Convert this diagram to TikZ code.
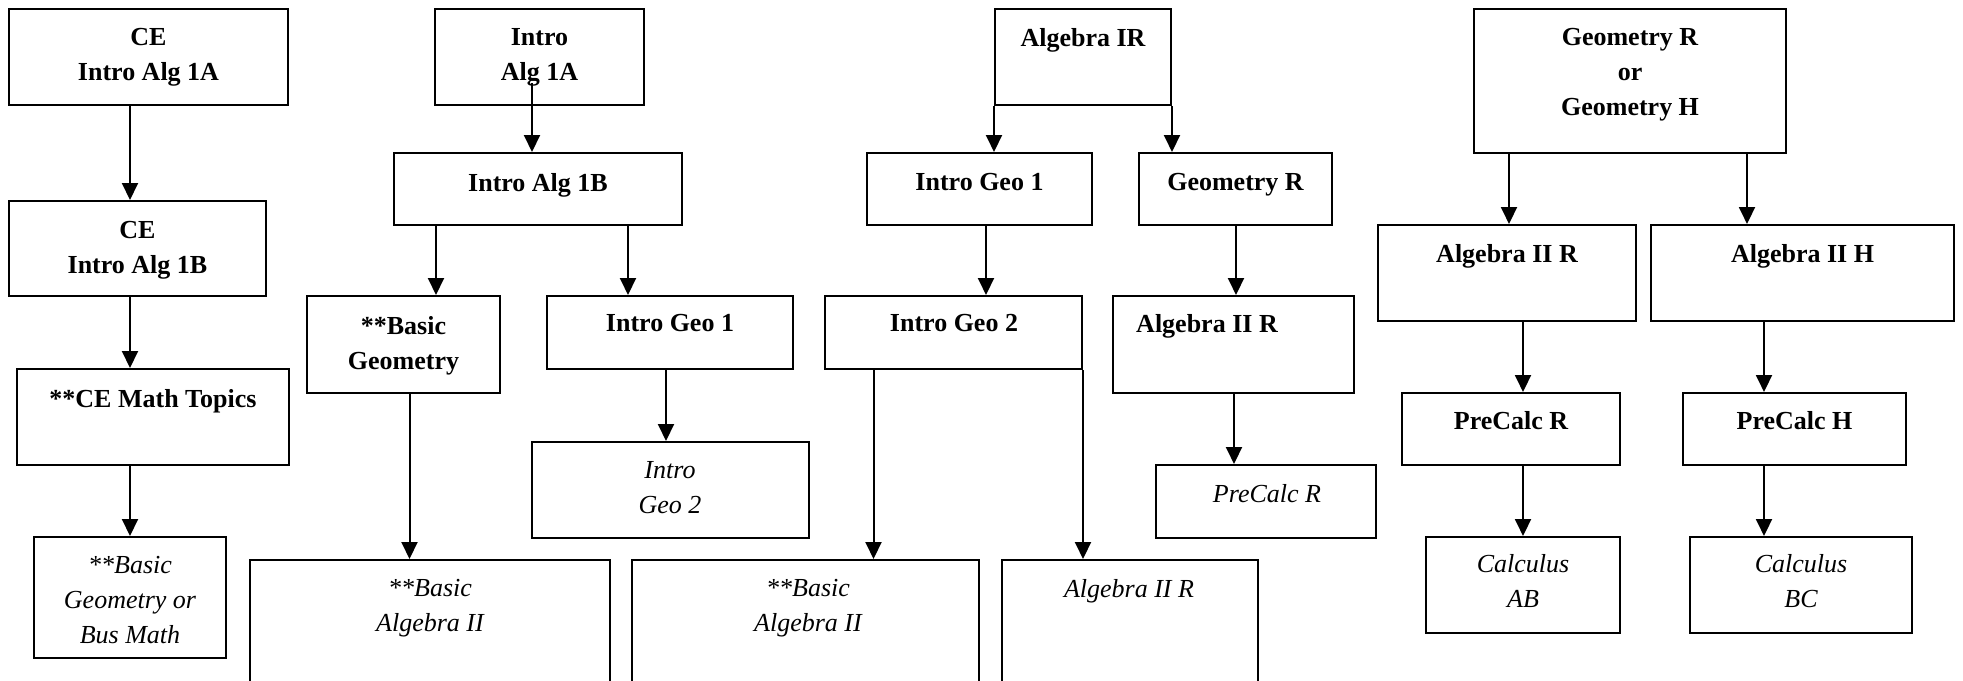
\documentclass[tikz,border=0pt]{standalone}
\usepackage{fontspec}
\setmainfont{Liberation Serif}
\usetikzlibrary{arrows.meta,fit}
\tikzset{
  box/.style={draw, line width=1pt, inner sep=0pt, rectangle},
  lbl/.style={anchor=north, inner sep=0pt, align=center, font=\fontsize{13}{17.5}\selectfont\bfseries},
  ilbl/.style={lbl, font=\fontsize{13}{17.5}\selectfont\itshape},
  conn/.style={draw, line width=1pt, -{Triangle[length=8.5pt,width=8pt]}},
}
\newcommand{\mkbox}[9]{%
  \node[box, fit={(#3,#4) (#5,#6)}] (#1) {};
  \node[#2] (#1t) at (#7,#8-9) {#9};
}
\begin{document}
\begin{tikzpicture}[x=0.5pt, y=-0.5pt]
\useasboundingbox (0,0) rectangle (1963,680);
\clip (0,0) rectangle (1963,680);
\fill[white] (0,0) rectangle (1963,680);
% column A
\mkbox{a1}{lbl}{9}{9}{288}{105}{148.5}{37}{CE\\Intro Alg 1A}
\mkbox{a2}{lbl}{9}{201}{266}{296}{137.5}{230}{CE\\Intro Alg 1B}
\mkbox{a3}{lbl}{17}{369}{289}{465}{153}{398}{**CE Math Topics}
\mkbox{a4}{ilbl}{34}{537}{226}{658}{130}{565}{**Basic\\Geometry or\\Bus Math}
% column B
\mkbox{b1}{lbl}{435}{9}{644}{105}{539.5}{37}{Intro\\Alg 1A}
\mkbox{b2}{lbl}{394}{153}{682}{225}{538}{182}{Intro Alg 1B}
\mkbox{b3}{lbl}{307}{296}{500}{393}{403.5}{325}{**Basic\\Geometry}
\mkbox{b4}{lbl}{547}{296}{793}{369}{670}{323}{Intro Geo 1}
\mkbox{b5}{ilbl}{250}{560}{610}{700}{430}{588}{**Basic\\Algebra II}
\mkbox{b6}{ilbl}{532}{442}{809}{538}{670}{470}{Intro\\Geo 2}
% column C
\mkbox{c1}{lbl}{995}{9}{1171}{105}{1083}{37}{Algebra IR}
\mkbox{c2}{lbl}{867}{153}{1092}{225}{979.5}{182}{Intro Geo 1}
\mkbox{c3}{lbl}{1139}{153}{1332}{225}{1235.5}{182}{Geometry R}
\mkbox{c4}{lbl}{825}{296}{1082}{369}{954}{323}{Intro Geo 2}
\mkbox{c5}{lbl}{1113}{296}{1354}{393}{1207}{323}{Algebra II R}
\mkbox{c6}{ilbl}{1156}{465}{1376}{538}{1267}{493}{PreCalc R}
\mkbox{c7}{ilbl}{632}{560}{979}{700}{808}{588}{**Basic\\Algebra II}
\mkbox{c8}{ilbl}{1002}{560}{1258}{700}{1129}{588}{Algebra II R}
% column D
\mkbox{d1}{lbl}{1474}{9}{1786}{153}{1630}{37}{Geometry R\\or\\Geometry H}
\mkbox{d2}{lbl}{1378}{225}{1636}{321}{1507}{253}{Algebra II R}
\mkbox{d3}{lbl}{1651}{225}{1954}{321}{1802.5}{253}{Algebra II H}
\mkbox{d4}{lbl}{1402}{393}{1620}{465}{1511}{420}{PreCalc R}
\mkbox{d5}{lbl}{1683}{393}{1906}{465}{1794.5}{420}{PreCalc H}
\mkbox{d6}{ilbl}{1426}{537}{1620}{633}{1523}{563}{Calculus\\AB}
\mkbox{d7}{ilbl}{1690}{537}{1912}{633}{1801}{563}{Calculus\\BC}
% connector x positions
\coordinate (xa) at (130,0);
\coordinate (b1in) at (532,83);
\coordinate (xb2) at (436,0);
\coordinate (xb3) at (628,0);
\coordinate (xb4) at (409.5,0);
\coordinate (xb5) at (666,0);
\coordinate (xc3) at (986,0);
\coordinate (xc4) at (1236,0);
\coordinate (xc5) at (873.5,0);
\coordinate (xc7) at (1234,0);
\coordinate (xd1) at (1509,0);
\coordinate (xd2) at (1747,0);
\coordinate (xd3) at (1523,0);
\coordinate (xd4) at (1764,0);
% connectors
\draw[conn] (a1.south -| xa) -- (a2.north -| xa);
\draw[conn] (a2.south -| xa) -- (a3.north -| xa);
\draw[conn] (a3.south -| xa) -- (a4.north -| xa);
\draw[conn] (b1in) -- (b2.north -| b1in);
\draw[conn] (b2.south -| xb2) -- (b3.north -| xb2);
\draw[conn] (b2.south -| xb3) -- (b4.north -| xb3);
\draw[conn] (b3.south -| xb4) -- (b5.north -| xb4);
\draw[conn] (b4.south -| xb5) -- (b6.north -| xb5);
\draw[conn] (c1.south west) -- (c2.north -| c1.south west);
\draw[conn] (c1.south east) -- (c3.north -| c1.south east);
\draw[conn] (c2.south -| xc3) -- (c4.north -| xc3);
\draw[conn] (c3.south -| xc4) -- (c5.north -| xc4);
\draw[conn] (c4.south -| xc5) -- (c7.north -| xc5);
\draw[conn] (c4.south east) -- (c8.north -| c4.south east);
\draw[conn] (c5.south -| xc7) -- (c6.north -| xc7);
\draw[conn] (d1.south -| xd1) -- (d2.north -| xd1);
\draw[conn] (d1.south -| xd2) -- (d3.north -| xd2);
\draw[conn] (d2.south -| xd3) -- (d4.north -| xd3);
\draw[conn] (d3.south -| xd4) -- (d5.north -| xd4);
\draw[conn] (d4.south -| xd3) -- (d6.north -| xd3);
\draw[conn] (d5.south -| xd4) -- (d7.north -| xd4);
\end{tikzpicture}
\end{document}
